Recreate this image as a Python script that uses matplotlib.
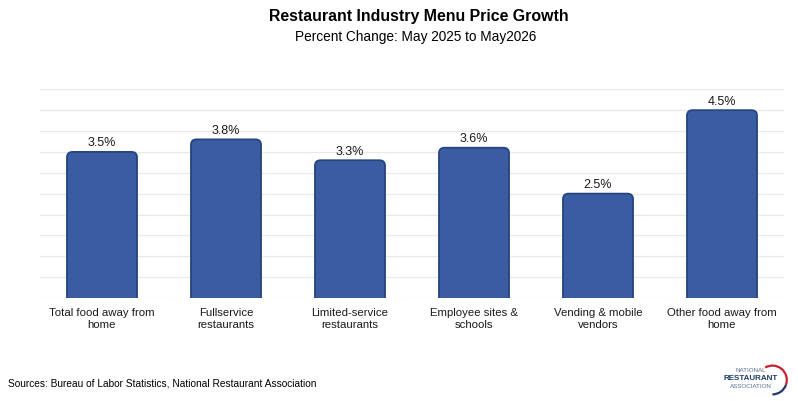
import matplotlib.pyplot as plt
from matplotlib.patches import FancyBboxPatch, Arc

plt.rcParams['font.family'] = ['Liberation Sans', 'DejaVu Sans']

# Chart data
categories = ['Total food away from\nhome', 'Fullservice\nrestaurants',
              'Limited-service\nrestaurants', 'Employee sites &\nschools',
              'Vending & mobile\nvendors', 'Other food away from\nhome']
growth = [3.5, 3.8, 3.3, 3.6, 2.5, 4.5]
value_labels = ['3.5%', '3.8%', '3.3%', '3.6%', '2.5%', '4.5%']
grid_levels = [0.5 * i for i in range(11)]

fig = plt.figure(figsize=(7.98, 4.01), dpi=100)
ax = fig.add_axes([40 / 798, 1 - 298 / 401, 744 / 798, (298 - 89.3) / 401])

x = list(range(len(categories)))
bars = ax.bar(x, growth, width=0.565, color='none', edgecolor='none')

# rounded-top bars built from the bar geometry
for b in bars:
    p = FancyBboxPatch((b.get_x(), -0.3), b.get_width(), b.get_height() + 0.3,
                       boxstyle='round,pad=0,rounding_size=0.045',
                       mutation_aspect=2.9, facecolor='#3A5CA2',
                       edgecolor='#27467F', linewidth=1.3, zorder=3)
    ax.add_patch(p)

for xi, v, lab in zip(x, growth, value_labels):
    ax.text(xi, v + 0.06, lab, ha='center', va='bottom', fontsize=9,
            color='#1a1a1a')

for g in grid_levels:
    ax.axhline(g, color='#e9e9e9', linewidth=0.9, zorder=0)

ax.set_xlim(-0.5, len(categories) - 0.5)
ax.set_ylim(0, 5)
ax.set_yticks([])
ax.set_xticks(x)
ax.set_xticklabels(categories, fontsize=8.2, color='#1a1a1a', linespacing=1.25)
ax.tick_params(axis='x', length=0, pad=7)
for s in ax.spines.values():
    s.set_visible(False)

fig.text(419 / 798, 1 - 17 / 401, 'Restaurant Industry Menu Price Growth',
         ha='center', va='center', fontsize=11.4, fontweight='bold')
fig.text(416 / 798, 1 - 37 / 401, 'Percent Change: May 2025 to May2026',
         ha='center', va='center', fontsize=9.8)
fig.text(8 / 798, 1 - 384 / 401,
         'Sources: Bureau of Labor Statistics, National Restaurant Association',
         ha='left', va='center', fontsize=7.3)

# logo
fig.text(751 / 798, 1 - 371 / 401, 'NATIONAL', ha='center', va='center',
         fontsize=4.5, color='#5a6f8f')
fig.text(751 / 798, 1 - 379 / 401, 'RESTAURANT', ha='center', va='center',
         fontsize=5.8, fontweight='bold', color='#1f3a68')
fig.text(751 / 798, 1 - 387 / 401, 'ASSOCIATION', ha='center', va='center',
         fontsize=4.5, color='#5a6f8f')
logo_ax = fig.add_axes([758 / 798, 1 - 396 / 401, 32 / 798, 32 / 401])
logo_ax.set_xlim(0, 1)
logo_ax.set_ylim(0, 1)
logo_ax.axis('off')
logo_ax.add_patch(Arc((0.45, 0.5), 0.9, 0.9, theta1=-20, theta2=120,
                      color='#c8202f', linewidth=1.6))
logo_ax.add_patch(Arc((0.45, 0.5), 0.9, 0.9, theta1=-90, theta2=-20,
                      color='#1f3a68', linewidth=1.6))

fig.savefig('out.png', dpi=100, facecolor='white')
